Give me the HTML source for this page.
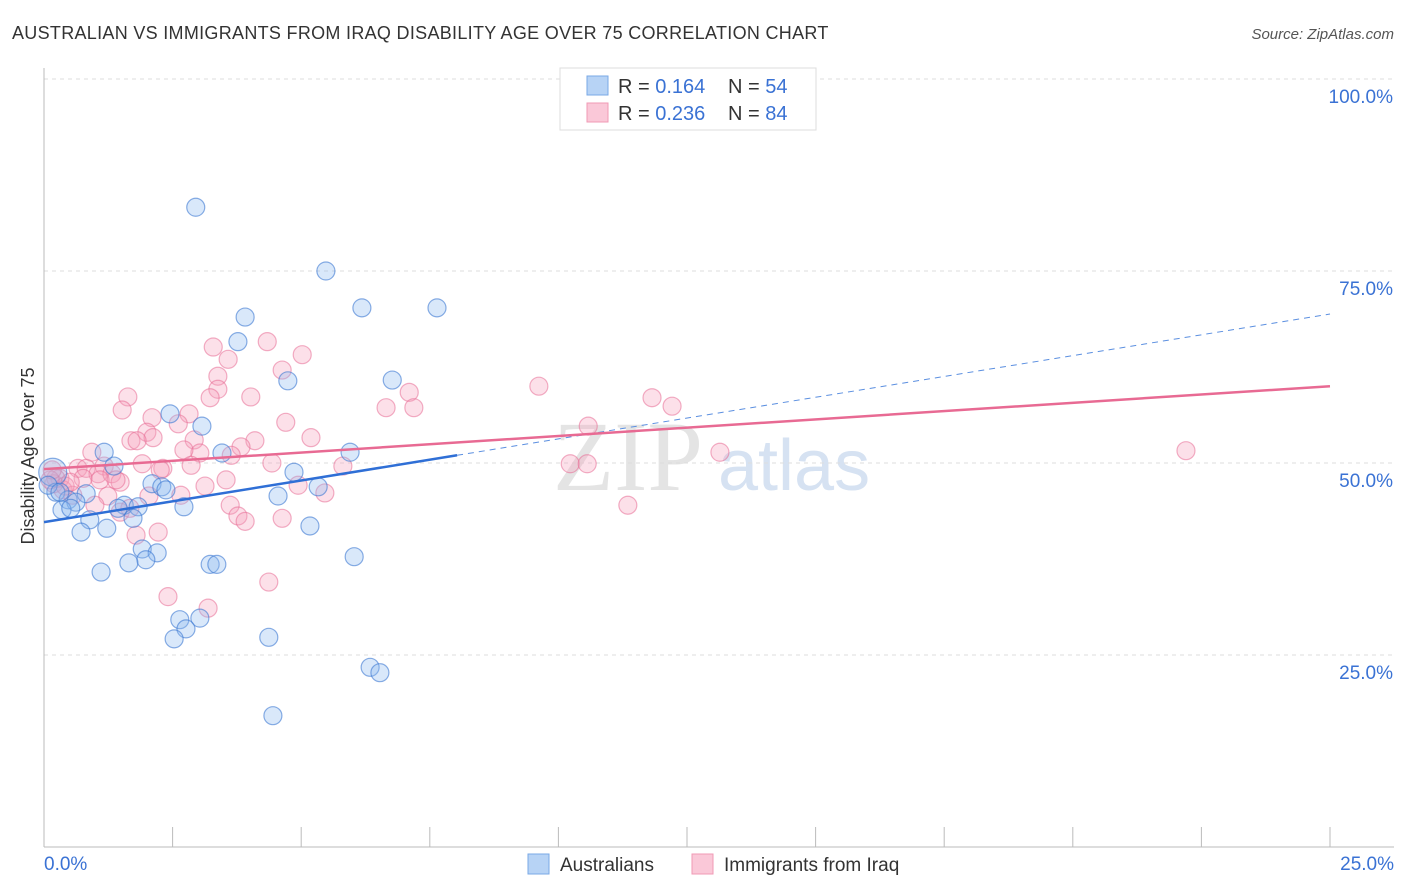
<!DOCTYPE html>
<html><head><meta charset="utf-8"><style>
body{margin:0;background:#fff;font-family:"Liberation Sans",sans-serif;}
#wrap{position:relative;width:1406px;height:892px;overflow:hidden;}
</style></head><body>
<div id="wrap">
<svg id="chart" width="1406" height="892" xmlns="http://www.w3.org/2000/svg">
<text x="12" y="39" font-size="18" fill="#333" letter-spacing="0.3">AUSTRALIAN VS IMMIGRANTS FROM IRAQ DISABILITY AGE OVER 75 CORRELATION CHART</text>
<text x="1394" y="39" font-size="15" fill="#555" font-style="italic" text-anchor="end">Source: ZipAtlas.com</text>
<text x="34" y="456" font-size="18" fill="#333" text-anchor="middle" transform="rotate(-90 34 456)">Disability Age Over 75</text>
<text x="553" y="490" font-size="100" fill="#e4e4e4" font-family="Liberation Serif,serif">ZIP</text>
<text x="718" y="490" font-size="72" fill="#d6e2f2">atlas</text>
<g id="grid"></g><g id="axes"></g><g id="pts"></g><g id="trend"></g>
<g>
<rect x="560" y="68" width="256" height="62" fill="#fff" stroke="#ddd"/>
<rect x="587" y="76" width="21" height="19" fill="#b7d3f5" stroke="#7aa8e6"/>
<rect x="587" y="103" width="21" height="19" fill="#fac8d8" stroke="#f09ab5"/>
<text x="618" y="93" font-size="20" fill="#333">R = <tspan fill="#3a72d4">0.164</tspan></text>
<text x="728" y="93" font-size="20" fill="#333">N = <tspan fill="#3a72d4">54</tspan></text>
<text x="618" y="120" font-size="20" fill="#333">R = <tspan fill="#3a72d4">0.236</tspan></text>
<text x="728" y="120" font-size="20" fill="#333">N = <tspan fill="#3a72d4">84</tspan></text>
</g>
<g>
<rect x="528" y="854" width="21" height="20" fill="#b7d3f5" stroke="#7aa8e6"/>
<text x="560" y="871" font-size="19" fill="#333">Australians</text>
<rect x="692" y="854" width="21" height="20" fill="#fac8d8" stroke="#f09ab5"/>
<text x="724" y="871" font-size="19" fill="#333">Immigrants from Iraq</text>
</g>
</svg>
</div>
<script>
const blueX=[2.95,5.48,6.18,7.64,3.91,3.77,6.77,4.74,2.45,3.07,5.95,1.17,3.46,1.36,0.17,4.86,2.10,2.29,5.33,2.37,0.82,4.55,0.23,0.47,0.62,1.56,1.83,2.72,1.44,0.35,0.52,1.73,0.89,1.22,0.72,5.17,1.91,2.20,6.03,1.98,1.65,3.23,3.36,1.11,2.64,3.03,2.76,2.53,4.37,6.34,6.53,4.45,0.08,0.31];
const blueY=[83.3,75.0,70.2,70.2,69.0,65.8,60.8,60.7,56.4,54.8,51.4,51.4,51.3,49.6,48.8,48.8,47.3,46.9,46.9,46.5,46.0,45.7,46.2,45.2,44.9,44.5,44.3,44.3,44.1,43.9,44.1,42.8,42.6,41.5,41.0,41.8,38.8,38.3,37.8,37.4,37.0,36.8,36.8,35.8,29.6,29.8,28.4,27.1,27.3,23.4,22.7,17.1,47.1,46.2];
const pinkX=[3.29,4.34,3.58,5.02,3.38,3.38,4.63,9.62,11.82,7.10,1.63,3.23,4.02,1.52,6.65,7.19,12.21,2.10,2.82,4.70,2.61,10.58,2.00,2.12,5.19,1.69,1.81,2.92,4.10,3.83,0.93,3.03,3.64,2.72,13.14,22.20,10.23,10.56,4.43,5.81,1.91,1.17,2.31,2.86,0.66,0.82,1.05,1.32,1.48,0.76,0.31,3.13,3.54,4.94,5.46,2.04,2.66,1.24,0.37,0.56,0.19,1.48,11.35,0.99,3.62,3.77,3.91,4.63,1.79,2.22,4.37,2.41,3.19,0.23,0.12,0.41,0.51,1.09,2.26,1.40,1.67,0.16];
const pinkY=[65.1,65.8,63.5,64.1,61.3,59.6,62.1,60.0,58.5,59.2,58.6,58.5,58.6,56.9,57.2,57.2,57.4,55.9,56.4,55.3,55.1,54.8,54.0,53.3,53.3,52.9,52.9,53.0,52.9,52.1,51.4,51.3,51.0,51.7,51.4,51.6,49.9,49.9,50.0,49.6,49.9,49.6,49.3,49.7,49.3,49.3,48.6,48.6,47.5,48.0,48.0,47.0,47.8,47.1,46.1,45.7,45.8,45.7,46.5,45.8,47.3,43.6,44.5,44.5,44.5,43.1,42.4,42.8,40.6,41.0,34.5,32.6,31.1,48.0,47.8,47.0,47.5,47.8,49.1,47.8,44.1,49.1];
const blueTrend=[42.3,69.4];
const pinkTrend=[49.2,60.0];
const blueSolidEnd=8.03;
const yTicks=[25,50,75,100];
const xTickLabels=["0.0%","25.0%"];

const NS="http://www.w3.org/2000/svg";
const X0=44,X1=1330,Y0=847,Y100=79;
const sx=v=>X0+(X1-X0)*v/25;
const sy=v=>Y0-(Y0-Y100)*v/100;
function mk(tag,attrs,parent){const e=document.createElementNS(NS,tag);for(const k in attrs)e.setAttribute(k,attrs[k]);parent.appendChild(e);return e;}
const grid=document.getElementById('grid'),axes=document.getElementById('axes'),pts=document.getElementById('pts'),trend=document.getElementById('trend');
yTicks.forEach(t=>{
  const l=mk('line',{x1:X0,x2:1394,y1:sy(t),y2:sy(t),stroke:'#ddd','stroke-dasharray':'4,4'},grid);
  
  
  const tx=mk('text',{x:1393,y:sy(t)+24,'font-size':19,fill:'#3a72d4','text-anchor':'end'},axes);
  tx.textContent=t.toFixed(1)+'%';
  
  
});
const ya=mk('line',{x1:X0,x2:X0,y1:68,y2:Y0,stroke:'#bbb'},axes);


const xa=mk('line',{x1:X0,x2:1394,y1:Y0,y2:Y0,stroke:'#bbb'},axes);


for(let i=0;i<=10;i++){
  const tk=mk('line',{x1:sx(i*2.5),x2:sx(i*2.5),y1:Y0-20,y2:Y0,stroke:'#bbb'},axes);
  
  
}
[[0,'start',44],[25,'end',1394]].forEach((d,i)=>{
  const t=mk('text',{x:d[2],y:870,'font-size':19,fill:'#3a72d4','text-anchor':d[1]},axes);
  t.textContent=xTickLabels[i];
  
  
});
pinkX.forEach((x,i)=>{
  const c=mk('circle',{cx:sx(x),cy:sy(pinkY[i]),r:9,fill:'rgba(246,160,188,0.33)',stroke:'rgba(232,110,150,0.55)','stroke-width':1.2},pts);
  
  
});
blueX.forEach((x,i)=>{
  const c=mk('circle',{cx:sx(x),cy:sy(blueY[i]),r:(i==14?14:9),fill:'rgba(140,185,240,0.33)',stroke:'rgba(60,120,210,0.6)','stroke-width':1.2},pts);
  
  
});
const bAt=x=>blueTrend[0]+(blueTrend[1]-blueTrend[0])*x/25;
const bl=mk('line',{x1:sx(0),y1:sy(bAt(0)),x2:sx(blueSolidEnd),y2:sy(bAt(blueSolidEnd)),stroke:'#2f6fd6','stroke-width':2.5},trend);


const bd=mk('line',{x1:sx(blueSolidEnd),y1:sy(bAt(blueSolidEnd)),x2:sx(25),y2:sy(bAt(25)),stroke:'#5b8fe0','stroke-width':1,'stroke-dasharray':'6,5'},trend);


const pl=mk('line',{x1:sx(0),y1:sy(pinkTrend[0]),x2:sx(25),y2:sy(pinkTrend[1]),stroke:'#e86a93','stroke-width':2.5},trend);


</script>
</body></html>
